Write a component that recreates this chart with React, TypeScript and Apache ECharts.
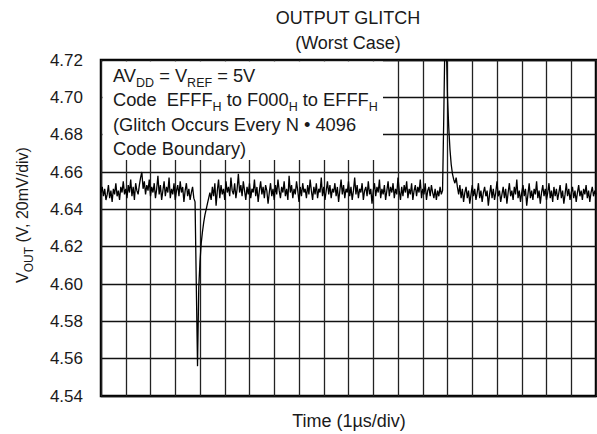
import React, { useEffect, useRef } from "react";
import * as echarts from "echarts";

// Sample spacing of the scope trace, in µs (x axis is 1 µs/div)
const TIME_STEP_US = 0.05;

// VOUT trace (V), one value per sample
const VOUT: number[] = [
  4.649, 4.652, 4.647, 4.651, 4.645, 4.648, 4.653, 4.646, 4.650, 4.644, 4.651, 4.648, 4.654, 4.647, 4.650, 4.645, 4.652, 4.649, 4.655, 4.648,
  4.651, 4.646, 4.653, 4.649, 4.656, 4.647, 4.652, 4.645, 4.654, 4.650, 4.648, 4.653, 4.657, 4.660, 4.651, 4.655, 4.648, 4.653, 4.650, 4.656,
  4.647, 4.652, 4.649, 4.654, 4.646, 4.651, 4.658, 4.648, 4.653, 4.645, 4.650, 4.655, 4.647, 4.652, 4.649, 4.657, 4.646, 4.651, 4.648, 4.654,
  4.645, 4.650, 4.653, 4.647, 4.655, 4.649, 4.652, 4.644, 4.650, 4.654, 4.647, 4.651, 4.645, 4.649, 4.652, 4.646,
  4.644, 4.600, 4.556, 4.598, 4.612, 4.622, 4.628, 4.633, 4.637, 4.640, 4.643, 4.646, 4.649,
  4.645, 4.652, 4.647, 4.654, 4.642, 4.650, 4.656, 4.646, 4.653, 4.648, 4.651, 4.645, 4.655, 4.649, 4.652, 4.647, 4.657, 4.650, 4.648, 4.654,
  4.646, 4.651, 4.659, 4.649, 4.653, 4.647, 4.655, 4.650, 4.645, 4.652, 4.648, 4.654, 4.646, 4.651, 4.649, 4.656, 4.647, 4.652, 4.644, 4.650,
  4.655, 4.648, 4.652, 4.646, 4.653, 4.650, 4.643, 4.649, 4.654, 4.647, 4.651, 4.645, 4.653, 4.648, 4.656, 4.650, 4.646, 4.652, 4.649, 4.655,
  4.647, 4.651, 4.645, 4.658, 4.649, 4.653, 4.646, 4.651, 4.648, 4.655, 4.650, 4.644, 4.652, 4.647, 4.654, 4.649, 4.651, 4.646, 4.653, 4.648,
  4.656, 4.650, 4.645, 4.652, 4.648, 4.654, 4.646, 4.651, 4.649, 4.657, 4.647, 4.652, 4.645, 4.650, 4.655, 4.648, 4.653, 4.646, 4.651, 4.649,
  4.654, 4.647, 4.652, 4.644, 4.650, 4.656, 4.648, 4.653, 4.646, 4.651, 4.649, 4.655, 4.647, 4.652, 4.645, 4.650, 4.657, 4.648, 4.653, 4.646,
  4.651, 4.649, 4.654, 4.645, 4.650, 4.652, 4.647, 4.655, 4.648, 4.651, 4.643, 4.650, 4.654, 4.647, 4.652, 4.649, 4.656, 4.646, 4.651, 4.648,
  4.653, 4.645, 4.650, 4.655, 4.647, 4.652, 4.649, 4.654, 4.646, 4.651, 4.648, 4.657, 4.650, 4.645, 4.652, 4.647, 4.653, 4.649, 4.655, 4.646,
  4.651, 4.648, 4.654, 4.645, 4.650, 4.653, 4.647, 4.652, 4.649, 4.656, 4.646, 4.651, 4.648, 4.654, 4.645, 4.650, 4.652, 4.647, 4.653, 4.649,
  4.646, 4.651, 4.645, 4.650, 4.647, 4.652, 4.648,
  4.650, 4.690, 4.735, 4.730, 4.700, 4.684, 4.672, 4.664, 4.659, 4.656, 4.654, 4.657, 4.652,
  4.648, 4.653, 4.646, 4.651, 4.644, 4.649, 4.652, 4.646, 4.650, 4.643, 4.648, 4.653, 4.647, 4.651, 4.645, 4.649, 4.654, 4.646, 4.650, 4.644,
  4.649, 4.652, 4.647, 4.650, 4.642, 4.648, 4.653, 4.646, 4.651, 4.645, 4.649, 4.655, 4.647, 4.650, 4.644, 4.648, 4.652, 4.646, 4.651, 4.643,
  4.649, 4.654, 4.647, 4.650, 4.645, 4.652, 4.648, 4.656, 4.646, 4.650, 4.644, 4.649, 4.653, 4.647, 4.651, 4.642, 4.648, 4.654, 4.646, 4.650,
  4.645, 4.651, 4.648, 4.655, 4.646, 4.650, 4.643, 4.649, 4.653, 4.647, 4.651, 4.645, 4.649, 4.654, 4.646, 4.650, 4.644, 4.652, 4.647, 4.651,
  4.645, 4.649, 4.653, 4.646, 4.650, 4.643, 4.648, 4.654, 4.647, 4.651, 4.645, 4.649, 4.652, 4.646, 4.650, 4.644, 4.649, 4.653, 4.647, 4.650,
  4.645, 4.651, 4.648, 4.653, 4.646, 4.650, 4.644, 4.649, 4.652, 4.647, 4.650, 4.648,
];

// Axis ranges
const Y_MIN = 4.54;
const Y_MAX = 4.72;
const Y_STEP = 0.02;
const X_MIN = 0;
const X_MAX = 20;
const X_STEP = 1;

// Texts
const TITLE_LINES = ["OUTPUT GLITCH", "(Worst Case)"];
const NOTE_LINES = [
  "AV{sub|DD} = V{sub|REF} = 5V",
  "Code  EFFF{sub|H} to F000{sub|H} to EFFF{sub|H}",
  "(Glitch Occurs Every N • 4096",
  "Code Boundary)",
];
const Y_NAME = "V{sub|OUT} (V, 20mV/div)";
const X_NAME = "Time (1µs/div)";

const FONT = "'Liberation Sans', Arial, Helvetica, sans-serif";
const INK = "#1a1a1a";

export default function App() {
  const ref = useRef<HTMLDivElement>(null);

  useEffect(() => {
    if (!ref.current) return;
    const chart = echarts.init(ref.current, undefined, { renderer: "svg" });

    const data = VOUT.map((v, i) => [i * TIME_STEP_US, v]);

    const option: any = {
      animation: false,
      backgroundColor: "#fff",
      grid: {
        left: 101,
        top: 60,
        right: 1,
        bottom: 38,
        show: true,
        borderColor: "#000",
        borderWidth: 2.5,
        backgroundColor: "transparent",
      },
      xAxis: {
        type: "value",
        min: X_MIN,
        max: X_MAX,
        interval: X_STEP,
        axisLine: { show: false },
        axisTick: { show: false },
        axisLabel: { show: false },
        splitLine: { show: true, lineStyle: { color: "#222", width: 1.3 } },
      },
      yAxis: {
        type: "value",
        min: Y_MIN,
        max: Y_MAX,
        interval: Y_STEP,
        axisLine: { show: false },
        axisTick: { show: false },
        axisLabel: {
          margin: 18,
          fontSize: 17,
          fontFamily: FONT,
          color: INK,
          padding: [3, 0, 0, 0],
          formatter: (v: number) => v.toFixed(2),
        },
        splitLine: { show: true, lineStyle: { color: "#111", width: 1.3 } },
      },
      series: [
        {
          type: "line",
          data,
          symbol: "none",
          showSymbol: false,
          clip: true,
          lineStyle: { color: "#000", width: 1.3 },
          z: 3,
        },
      ],
      graphic: [
        {
          type: "rect",
          z: 50,
          shape: { x: 102.5, y: 61.5, width: 383 - 102.5, height: 160 - 61.5 },
          style: { fill: "#fff" },
        },
        {
          type: "text",
          z: 51,
          x: 113,
          y: 63.5,
          style: {
            text: NOTE_LINES.join("\n"),
            fontSize: 18.3,
            fontFamily: FONT,
            lineHeight: 24.3,
            fill: INK,
            align: "left",
            verticalAlign: "top",
            rich: {
              sub: {
                fontSize: 12.5,
                fontFamily: FONT,
                lineHeight: 12,
                fill: INK,
                verticalAlign: "middle",
                padding: [14, 0, 0, 0],
              },
            },
          },
        },
        {
          type: "text",
          z: 51,
          x: 348,
          y: 18,
          style: {
            text: TITLE_LINES[0],
            fontSize: 18,
            fontFamily: FONT,
            fill: INK,
            align: "center",
            verticalAlign: "middle",
          },
        },
        {
          type: "text",
          z: 51,
          x: 348,
          y: 43,
          style: {
            text: TITLE_LINES[1],
            fontSize: 18,
            fontFamily: FONT,
            fill: INK,
            align: "center",
            verticalAlign: "middle",
          },
        },
        {
          type: "text",
          z: 51,
          x: 349,
          y: 421,
          style: {
            text: X_NAME,
            fontSize: 18,
            fontFamily: FONT,
            fill: INK,
            align: "center",
            verticalAlign: "middle",
          },
        },
        {
          type: "text",
          z: 51,
          x: 22.5,
          y: 215,
          rotation: Math.PI / 2,
          style: {
            text: Y_NAME,
            fontSize: 16,
            fontFamily: FONT,
            lineHeight: 20,
            fill: INK,
            align: "center",
            verticalAlign: "middle",
            rich: {
              sub: {
                fontSize: 12,
                fontFamily: FONT,
                lineHeight: 12,
                fill: INK,
                verticalAlign: "middle",
                padding: [12, 0, 0, 0],
              },
            },
          },
        },
      ],
    };

    chart.setOption(option);
    return () => chart.dispose();
  }, []);

  return (
    <div
      ref={ref}
      style={{ position: "absolute", left: 0, top: 0, width: 597, height: 434 }}
    />
  );
}
